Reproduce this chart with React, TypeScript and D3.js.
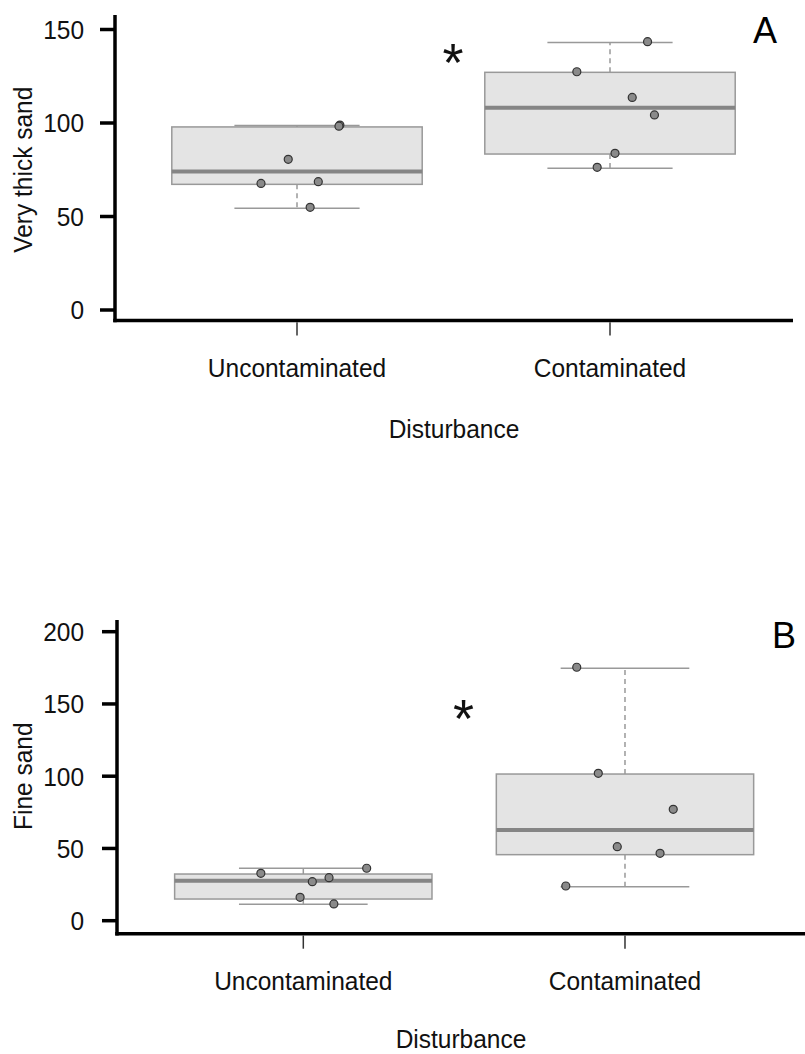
import React from "react";
import * as d3 from "d3";

// Groups on the x axis
const categories = ["Uncontaminated", "Contaminated"];

// Panel A: very thick sand
const thickTicks = [0, 50, 100, 150];
const thickQ1 = [67.2, 83.4];
const thickMedian = [74.0, 108.2];
const thickQ3 = [97.9, 127.1];
const thickLow = [54.4, 75.8];
const thickHigh = [98.6, 143.1];
const thickPointsUncont = [67.7, 80.6, 68.6, 54.9, 98.9, 98.3];
const thickJitterUncont = [-0.115, -0.028, 0.068, 0.042, 0.137, 0.134];
const thickPointsCont = [143.5, 127.4, 113.7, 104.3, 83.8, 76.3];
const thickJitterCont = [0.12, -0.106, 0.071, 0.142, 0.016, -0.041];

// Panel B: fine sand
const fineTicks = [0, 50, 100, 150, 200];
const fineQ1 = [15.0, 45.7];
const fineMedian = [27.7, 62.8];
const fineQ3 = [32.3, 101.5];
const fineLow = [11.3, 23.5];
const fineHigh = [36.3, 174.7];
const finePointsUncont = [32.8, 27.0, 29.8, 36.3, 16.2, 11.6];
const fineJitterUncont = [-0.132, 0.028, 0.08, 0.197, -0.01, 0.095];
const finePointsCont = [175.4, 102.0, 77.1, 51.2, 46.6, 24.0];
const fineJitterCont = [-0.15, -0.083, 0.15, -0.024, 0.109, -0.184];

const FONT = "'Liberation Sans', Arial, Helvetica, sans-serif";
const FS = 24.5;

type PanelProps = {
  yTitle: string;
  letter: string;
  ticks: number[];
  yMax: number;
  yRange: [number, number];
  xRange: [number, number];
  axisX: number;
  axisY: number;
  axisTop: number;
  axisRight: number;
  titleOffset: number;
  q1: number[];
  median: number[];
  q3: number[];
  low: number[];
  high: number[];
  points: number[][];
  jitter: number[][];
  star: [number, number];
  letterPos: [number, number];
};

// Text stretched slightly taller than the regular face
function Label(props: {
  x: number;
  y: number;
  anchor?: string;
  size?: number;
  dy?: string;
  rotate?: boolean;
  children: React.ReactNode;
}) {
  const { x, y, anchor = "middle", size = FS, dy, rotate, children } = props;
  const t = rotate
    ? `translate(${x},${y}) rotate(-90) scale(1,1.07)`
    : `translate(${x},${y}) scale(1,1.07)`;
  return (
    <text transform={t} dy={dy} textAnchor={anchor} fontSize={size} fontFamily={FONT} fill="#111">
      {children}
    </text>
  );
}

function Panel(p: PanelProps) {
  const x = d3.scalePoint<string>().domain(categories).range(p.xRange).padding(0.6);
  const step = x.step();
  const y = d3.scaleLinear().domain([0, p.yMax]).range(p.yRange);
  const boxHalf = step * 0.4;
  const capHalf = step * 0.2;
  const yMid = (p.yRange[0] + p.yRange[1]) / 2;

  return (
    <g>
      {/* boxes */}
      {categories.map((c, i) => {
        const cx = x(c) as number;
        return (
          <g key={c}>
            <line x1={cx} x2={cx} y1={y(p.q3[i])} y2={y(p.high[i])} stroke="#999" strokeWidth={1.5} strokeDasharray="5,4" />
            <line x1={cx} x2={cx} y1={y(p.q1[i])} y2={y(p.low[i])} stroke="#999" strokeWidth={1.5} strokeDasharray="5,4" />
            <line x1={cx - capHalf} x2={cx + capHalf} y1={y(p.high[i])} y2={y(p.high[i])} stroke="#999" strokeWidth={1.5} />
            <line x1={cx - capHalf} x2={cx + capHalf} y1={y(p.low[i])} y2={y(p.low[i])} stroke="#999" strokeWidth={1.5} />
            <rect
              x={cx - boxHalf}
              y={y(p.q3[i])}
              width={boxHalf * 2}
              height={y(p.q1[i]) - y(p.q3[i])}
              fill="#e4e4e4"
              stroke="#999"
              strokeWidth={1.5}
            />
            <line x1={cx - boxHalf} x2={cx + boxHalf} y1={y(p.median[i])} y2={y(p.median[i])} stroke="#858585" strokeWidth={4} />
            {p.points[i].map((v, j) => (
              <circle key={j} cx={cx + p.jitter[i][j] * step} cy={y(v)} r={4} fill="#8a8a8a" stroke="#333" strokeWidth={1.2} />
            ))}
          </g>
        );
      })}

      {/* y axis */}
      <line x1={p.axisX} x2={p.axisX} y1={p.axisTop} y2={p.axisY + 1.75} stroke="#000" strokeWidth={3.5} />
      {p.ticks.map((t) => (
        <g key={t}>
          <line x1={p.axisX - 15} x2={p.axisX} y1={y(t)} y2={y(t)} stroke="#000" strokeWidth={3.5} />
          <Label x={84} y={y(t)} dy="0.36em" anchor="end">
            {t}
          </Label>
        </g>
      ))}
      <Label x={32} y={yMid} rotate>
        {p.yTitle}
      </Label>

      {/* x axis */}
      <line x1={p.axisX - 1.75} x2={p.axisRight} y1={p.axisY} y2={p.axisY} stroke="#000" strokeWidth={3.5} />
      {categories.map((c) => (
        <g key={c}>
          <line x1={x(c)} x2={x(c)} y1={p.axisY + 1.75} y2={p.axisY + 15} stroke="#333" strokeWidth={1.5} />
          <Label x={x(c) as number} y={p.axisY + 56}>
            {c}
          </Label>
        </g>
      ))}
      <Label x={(p.axisX + p.axisRight) / 2} y={p.axisY + p.titleOffset}>
        Disturbance
      </Label>

      {/* annotations */}
      <text x={p.star[0]} y={p.star[1]} textAnchor="middle" fontSize={54} fontFamily={FONT} fill="#111">
        *
      </text>
      <text x={p.letterPos[0]} y={p.letterPos[1]} textAnchor="middle" fontSize={36} fontFamily={FONT} fill="#000">
        {p.letter}
      </text>
    </g>
  );
}

export default function App() {
  return (
    <svg
      width={805}
      height={1054}
      style={{ position: "absolute", left: 0, top: 0, background: "#fff" }}
    >
      <rect width={805} height={1054} fill="#fff" />
      <Panel
        yTitle="Very thick sand"
        letter="A"
        ticks={thickTicks}
        yMax={150}
        yRange={[310, 29.5]}
        xRange={[109.2, 797.8]}
        axisX={115}
        axisY={320.5}
        axisTop={15}
        axisRight={793}
        titleOffset={117}
        q1={thickQ1}
        median={thickMedian}
        q3={thickQ3}
        low={thickLow}
        high={thickHigh}
        points={[thickPointsUncont, thickPointsCont]}
        jitter={[thickJitterUncont, thickJitterCont]}
        star={[453, 81]}
        letterPos={[765, 43]}
      />
      <Panel
        yTitle="Fine sand"
        letter="B"
        ticks={fineTicks}
        yMax={200}
        yRange={[920.7, 631.7]}
        xRange={[110.3, 818]}
        axisX={117}
        axisY={933.7}
        axisTop={620}
        axisRight={805}
        titleOffset={114}
        q1={fineQ1}
        median={fineMedian}
        q3={fineQ3}
        low={fineLow}
        high={fineHigh}
        points={[finePointsUncont, finePointsCont]}
        jitter={[fineJitterUncont, fineJitterCont]}
        star={[463.5, 737]}
        letterPos={[784, 648]}
      />
    </svg>
  );
}
